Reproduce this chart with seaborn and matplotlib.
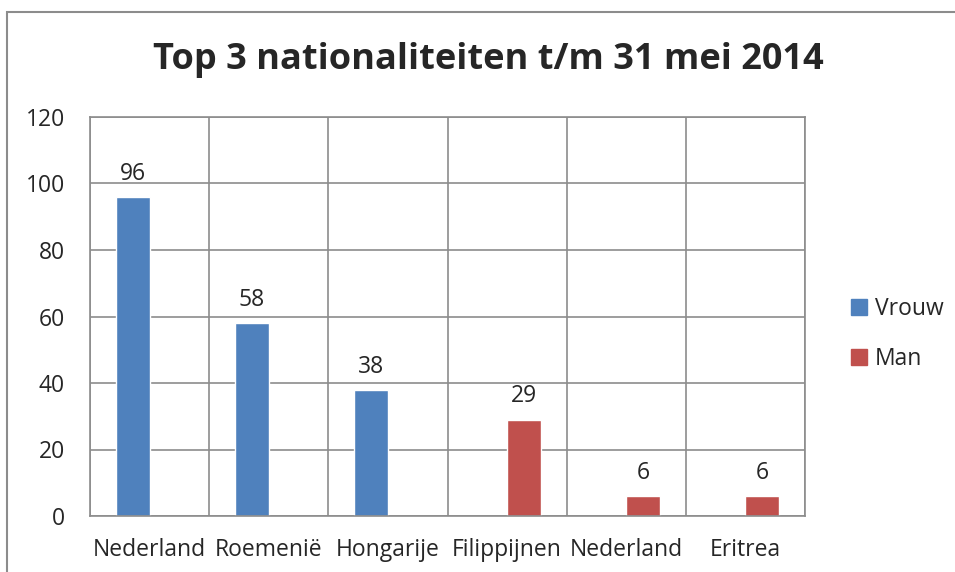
import matplotlib
matplotlib.use("Agg")
import matplotlib.pyplot as plt
import matplotlib.patches as mpatches
import pandas as pd
import seaborn as sns

# chart data
categories = ["Nederland", "Roemenië", "Hongarije", "Filippijnen", "Nederland", "Eritrea"]
geslacht = ["Vrouw", "Vrouw", "Vrouw", "Man", "Man", "Man"]
aantallen = [96, 58, 38, 29, 6, 6]
series = ["Vrouw", "Man"]
colors = {"Vrouw": "#4F81BD", "Man": "#C0504D"}
yticks = [0, 20, 40, 60, 80, 100, 120]

# the label "Nederland" occurs twice, so use position keys for the x axis
df = pd.DataFrame({
    "pos": [str(i) for i in range(len(categories))],
    "geslacht": geslacht,
    "aantal": aantallen,
})

sns.set_style("white")
plt.rcParams["font.family"] = ["Open Sans", "DejaVu Sans"]
grid = "#8C8C8C"
fs = 16.5

fig = plt.figure(figsize=(9.55, 5.72), dpi=100)
ax = fig.add_axes([90 / 955, 1 - 516 / 572, 715 / 955, 399 / 572])

sns.barplot(data=df, x="pos", y="aantal", hue="geslacht", hue_order=series,
            palette=colors, width=0.57, dodge=True, saturation=1,
            order=[str(i) for i in range(len(categories))],
            errorbar=None, legend=False, ax=ax)

for cont in ax.containers:
    for bar in cont:
        h = bar.get_height()
        if h != h or h == 0:
            continue
        ax.annotate(f"{int(h)}", (bar.get_x() + bar.get_width() / 2, h),
                    xytext=(0, 8), textcoords="offset points",
                    ha="center", va="bottom", fontsize=fs)

ax.set_xlim(-0.5, len(categories) - 0.5)
ax.set_ylim(0, 120)
ax.set_yticks(yticks)
ax.set_xticks(range(len(categories)))
ax.set_xticklabels(categories)
ax.set_xticks([i - 0.5 for i in range(len(categories) + 1)], minor=True)
ax.tick_params(axis="x", which="major", length=0, labelsize=fs, pad=16)
ax.tick_params(axis="x", which="minor", length=6, color=grid, width=1.2)
ax.tick_params(axis="y", length=6, color=grid, width=1.2, labelsize=fs, pad=12)
ax.set_xlabel("")
ax.set_ylabel("")

ax.grid(axis="y", which="major", color=grid, linewidth=1.2)
ax.grid(axis="x", which="minor", color=grid, linewidth=1.2)
ax.set_axisbelow(True)
for s in ax.spines.values():
    s.set_color(grid)
    s.set_linewidth(1.2)

handles = [mpatches.Patch(color=colors[s], label=s) for s in series]
fig.legend(handles=handles, loc="center left", bbox_to_anchor=(830 / 955, 1 - 334 / 572),
           frameon=False, fontsize=fs, handlelength=0.7, handleheight=0.7,
           handletextpad=0.35, labelspacing=1.1)

fig.text(488 / 955, 1 - 60 / 572, "Top 3 nationaliteiten t/m 31 mei 2014",
         ha="center", va="center", fontsize=26, fontweight="bold")

# outer chart border
fig.patches.append(mpatches.Rectangle((7 / 955, -0.2), 1.2, 0.2 + (1 - 12 / 572),
                                      transform=fig.transFigure, fill=False,
                                      edgecolor=grid, linewidth=1.5))

fig.savefig("out.png", dpi=100)
